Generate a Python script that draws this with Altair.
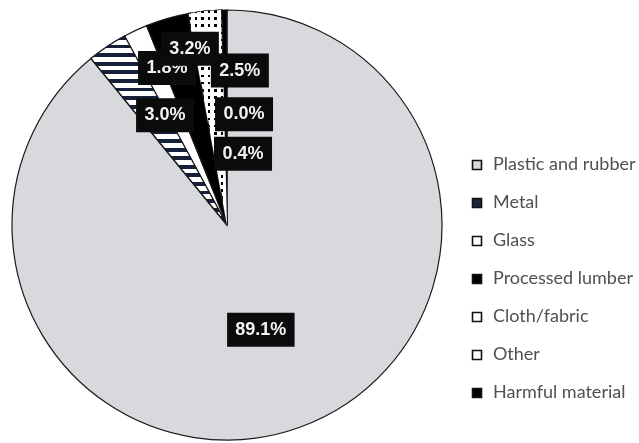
import numpy as np
import pandas as pd
import altair as alt

# Composition of collected debris (percent of total)
categories = ["Plastic and rubber", "Metal", "Glass", "Processed lumber",
              "Cloth/fabric", "Other", "Harmful material"]
shares = [89.1, 3.0, 1.8, 3.2, 2.5, 0.0, 0.4]

# Solid fills per category (also used for the legend swatches)
fills = ["#d7d9dc", "#1b2540", "#ffffff", "#000000", "#ffffff", "#ffffff", "#000000"]

# Canvas and pie geometry (pixels)
W, H = 639, 443
CX, CY, R = 227, 225, 215

# Data-label placement: distance from the centre, and clockwise turn (degrees)
# away from the middle of each slice so the boxes do not collide
label_radius = [110, 126, 168, 180, 155, 112, 73]
label_turn = [1.7, 4.4, 4.3, 4.3, 10.7, 10.2, 13.4]

vals = np.array(shares, dtype=float)
ends = np.cumsum(vals)
starts = ends - vals
mids = starts + vals / 2

pie_df = pd.DataFrame({
    "category": categories,
    "share": shares,
    "order": list(range(len(categories))),
    "start": starts,
    "end": ends,
})

theta_scale = alt.Scale(domain=[0, 100], range=[0, 2 * np.pi])
x_scale = alt.Scale(domain=[-CX, W - CX], range=[0, W])
y_scale = alt.Scale(domain=[-CY, H - CY], range=[0, H])


def banded(n, frac, dark, light, vertical_bands):
    """Hard-stop linear gradient that paints n repeating bands."""
    stops = []
    for i in range(n):
        a, b, c = i / n, (i + frac) / n, (i + 1) / n
        stops += [{"offset": a, "color": dark}, {"offset": b, "color": dark},
                  {"offset": b, "color": light}, {"offset": c, "color": light}]
    g = {"gradient": "linear", "stops": stops, "x1": 0, "y1": 0}
    if vertical_bands:
        g.update({"x2": 1, "y2": 0})
    else:
        g.update({"x2": 0, "y2": 1})
    return g


stroke_kw = dict(stroke="#1a1a1a", strokeWidth=1.2, radius=R)

base = alt.Chart(pie_df).mark_arc(**stroke_kw).encode(
    theta=alt.Theta("share:Q", stack=True, scale=theta_scale),
    order=alt.Order("order:Q"),
    color=alt.Color(
        "category:N",
        scale=alt.Scale(domain=categories, range=fills),
        sort=categories,
        legend=alt.Legend(
            title=None, orient="none", legendX=468, legendY=156,
            symbolType="square", symbolSize=81,
            symbolStrokeColor="#111111", symbolStrokeWidth=1.6,
            labelFont="Lato", labelFontSize=18, labelColor="#505050",
            labelOffset=7, rowPadding=20, padding=0, labelLimit=300,
        ),
    ),
    x=alt.value(CX),
    y=alt.value(CY),
)


def slice_overlay(name, fill, **extra):
    df = pie_df[pie_df["category"] == name]
    return alt.Chart(df).mark_arc(fill=fill, **extra).encode(
        theta=alt.Theta("start:Q", stack=False, scale=theta_scale),
        theta2="end:Q",
        x=alt.value(CX),
        y=alt.value(CY),
    )


# Metal: horizontal navy stripes
metal = slice_overlay("Metal", banded(22, 0.45, "#15203a", "#ffffff", False), **stroke_kw)
# Cloth/fabric: dot grid made of two crossed band fills combined with "lighten"
cloth_rows = slice_overlay("Cloth/fabric", banded(30, 0.38, "#000000", "#ffffff", False), **stroke_kw)
cloth_cols = slice_overlay("Cloth/fabric", banded(6, 0.4, "#000000", "#ffffff", True),
                           radius=R, blend="lighten")

layers = [base, metal, cloth_rows, cloth_cols]

# Data labels: white bold text on black boxes, drawn in series order
ang = np.deg2rad(mids * 3.6 + np.array(label_turn))
lx = np.array(label_radius) * np.sin(ang)
ly = -np.array(label_radius) * np.cos(ang)
texts = [f"{v:.1f}%" for v in shares]
box_w = np.array([20 + 9.5 * len(t) for t in texts])
box_h = 34

for i in range(len(categories)):
    lab = pd.DataFrame({
        "cx": [lx[i]], "cy": [ly[i]],
        "x1": [lx[i] - box_w[i] / 2], "x2": [lx[i] + box_w[i] / 2],
        "y1": [ly[i] - box_h / 2], "y2": [ly[i] + box_h / 2],
        "label": [texts[i]],
    })
    box = alt.Chart(lab).mark_rect(color="#0b0b0b").encode(
        x=alt.X("x1:Q", scale=x_scale, axis=None),
        x2="x2:Q",
        y=alt.Y("y1:Q", scale=y_scale, axis=None),
        y2="y2:Q",
    )
    txt = alt.Chart(lab).mark_text(
        font="Liberation Sans", fontSize=18, fontWeight="bold",
        color="#f2f2f2", align="center", baseline="middle",
    ).encode(
        x=alt.X("cx:Q", scale=x_scale, axis=None),
        y=alt.Y("cy:Q", scale=y_scale, axis=None),
        text="label:N",
    )
    layers += [box, txt]

chart = alt.layer(*layers).properties(
    width=W, height=H, padding=0,
    autosize=alt.AutoSizeParams(type="none"),
    background="white",
).configure_view(stroke=None)

chart.save("out.html", embed_options={"renderer": "svg", "actions": False})
